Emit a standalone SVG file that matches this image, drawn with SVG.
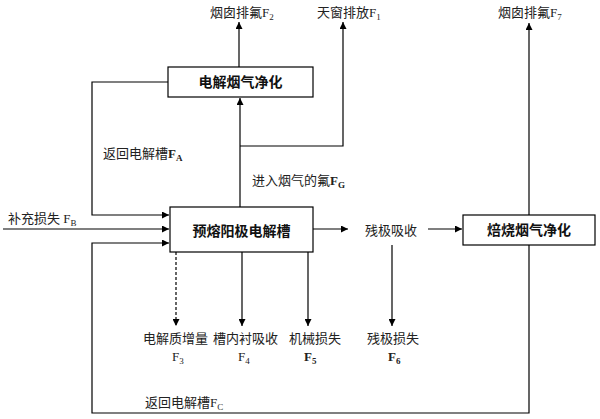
<svg xmlns="http://www.w3.org/2000/svg" width="600" height="419" viewBox="0 0 600 419">
<defs>
<marker id="ah" viewBox="0 0 8 8" refX="8" refY="4" markerWidth="7" markerHeight="7" markerUnits="userSpaceOnUse" orient="auto">
<path d="M0,0 L8,4 L0,8 z" fill="#000"/>
</marker>
<style>
.box{fill:#fff;stroke:#000;stroke-width:1.2}
.ln{fill:none;stroke:#000;stroke-width:1.2}
.arr{fill:none;stroke:#000;stroke-width:1.2;marker-end:url(#ah)}
.dash{stroke-dasharray:3,2}
.t{font-family:"Liberation Serif","Noto Sans CJK SC",serif;font-size:13px;fill:#222}
.b{font-family:"Liberation Serif","Noto Sans CJK SC",serif;font-size:14px;font-weight:bold;fill:#111}
.sub{font-size:9px}
.bf{font-weight:bold}
</style>
</defs>
<rect width="600" height="419" fill="#fff"/>
<g id="connectors">
<line class="arr" x1="239" y1="67" x2="239" y2="22"/>
<polyline class="arr" points="168,82 92,82 92,215 169,215"/>
<line class="arr" x1="240" y1="207" x2="240" y2="98"/>
<polyline class="arr" points="240,146 343,146 343,22"/>
<line class="arr" x1="3" y1="229" x2="169" y2="229"/>
<polyline class="arr" points="529,245 529,413 92,413 92,243 169,243"/>
<line class="arr" x1="529" y1="215" x2="529" y2="23"/>
<line class="arr" x1="313" y1="229" x2="348" y2="229"/>
<line class="arr" x1="428" y1="229" x2="462" y2="229"/>
<line class="arr" x1="392" y1="245" x2="392" y2="326"/>
<line class="arr dash" x1="176" y1="252" x2="176" y2="326"/>
<line class="arr" x1="242" y1="252" x2="242" y2="326"/>
<line class="arr" x1="308" y1="252" x2="308" y2="326"/>
</g>
<g id="n_dianjie_jinghua">
<rect class="box" x="168" y="67" width="145" height="30"/>
<text class="b" x="240.5" y="87" text-anchor="middle">电解烟气净化</text>
</g>
<g id="n_cao">
<rect class="box" x="170" y="207" width="143" height="45"/>
<text class="b" x="241.5" y="236" text-anchor="middle">预熔阳极电解槽</text>
</g>
<g id="n_bei_jinghua">
<rect class="box" x="463" y="215" width="132" height="30"/>
<text class="b" x="529" y="235" text-anchor="middle">焙烧烟气净化</text>
</g>
<g id="n_canji">
<text class="t" x="391" y="235" text-anchor="middle">残极吸收</text>
</g>
<g id="labels">
<text class="t" x="210" y="17">烟囱排氟F<tspan class="sub" dy="3">2</tspan></text>
<text class="t" x="317" y="17">天窗排放F<tspan class="sub" dy="3">1</tspan></text>
<text class="t" x="498" y="17">烟囱排氟F<tspan class="sub" dy="3">7</tspan></text>
<text class="t" x="103" y="158">返回电解槽<tspan class="bf">F</tspan><tspan class="sub bf" dy="3">A</tspan></text>
<text class="t" x="252" y="185">进入烟气的氟<tspan class="bf">F</tspan><tspan class="sub bf" dy="3">G</tspan></text>
<text class="t" x="8" y="223">补充损失 F<tspan class="sub" dy="3">B</tspan></text>
<text class="t" x="145" y="407">返回电解槽F<tspan class="sub" dy="3">C</tspan></text>
<text class="t" x="143" y="343">电解质增量</text>
<text class="t" x="213" y="343">槽内衬吸收</text>
<text class="t" x="289" y="343">机械损失</text>
<text class="t" x="393" y="343" text-anchor="middle">残极损失</text>
<text class="t" x="172" y="361">F<tspan class="sub" dy="3">3</tspan></text>
<text class="t" x="238" y="361">F<tspan class="sub" dy="3">4</tspan></text>
<text class="t bf" x="304" y="361">F<tspan class="sub" dy="3">5</tspan></text>
<text class="t bf" x="388" y="361">F<tspan class="sub" dy="3">6</tspan></text>
</g>
</svg>
